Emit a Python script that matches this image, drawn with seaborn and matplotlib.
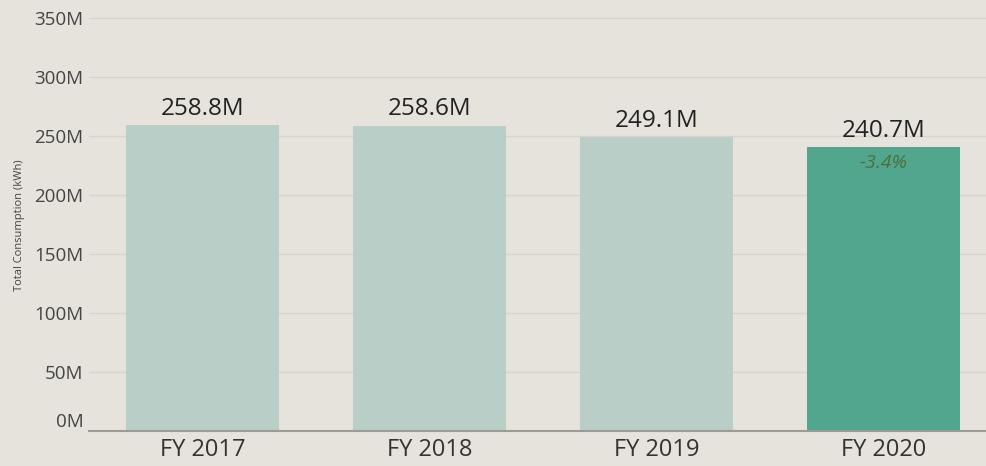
import pandas as pd
import matplotlib.pyplot as plt
import seaborn as sns

years = ['FY 2017', 'FY 2018', 'FY 2019', 'FY 2020']
consumption_m = [258.8, 258.6, 249.1, 240.7]
highlight = [False, False, False, True]
y_ticks = [0, 50, 100, 150, 200, 250, 300, 350]

BG = '#e6e2dc'
LIGHT = '#b9cec7'
DARK = '#52a68e'


def plot_consumption():
    df = pd.DataFrame({'year': years, 'kwh': consumption_m, 'hl': highlight})

    sns.set_style('white')
    plt.rcParams['font.family'] = ['Open Sans', 'DejaVu Sans']

    fig = plt.figure(figsize=(9.86, 4.66), dpi=100, facecolor=BG)
    ax = fig.add_axes([0.0903, 0.0751, 0.921, 0.925])
    ax.set_facecolor(BG)

    sns.barplot(data=df, x='year', y='kwh', hue='hl', palette={False: LIGHT, True: DARK},
                width=0.675, dodge=False, legend=False, ax=ax, saturation=1, linewidth=0)

    ax.set_xlim(-0.5, 3.5)
    ax.set_ylim(0, 365)
    ax.set_yticks(y_ticks)
    ax.set_yticklabels([f'{t}M' for t in y_ticks], fontsize=13.5, color='#444444')
    ax.get_yticklabels()[0].set_va('bottom')
    ax.grid(axis='y', color='#d8d4cd', linewidth=1)
    ax.set_axisbelow(True)
    ax.tick_params(axis='both', length=0)
    ax.tick_params(axis='x', labelsize=17, colors='#333333', pad=5)
    ax.tick_params(axis='y', pad=4)
    ax.set_xlabel('')
    ax.set_ylabel('Total Consumption (kWh)', fontsize=8, color='#444444')
    ax.yaxis.set_label_coords(-0.071, 0.478)

    for s in ['top', 'right', 'left']:
        ax.spines[s].set_visible(False)
    ax.spines['bottom'].set_color('#9e9a94')
    ax.spines['bottom'].set_linewidth(1.5)

    for i, v in enumerate(consumption_m):
        ax.annotate(f'{v:.1f}M', (i, v), xytext=(0, 3), textcoords='offset points',
                    ha='center', va='bottom', fontsize=17.5, color='#222222')

    # change vs previous year on highlighted bar
    pct = (consumption_m[3] - consumption_m[2]) / consumption_m[2] * 100
    ax.annotate(f'{pct:.1f}%', (3, consumption_m[3]), xytext=(0, -5), textcoords='offset points',
                ha='center', va='top', fontsize=14, style='italic', color='#4e6e3c')

    plt.savefig('out.png', facecolor=BG)
    plt.close()


if __name__ == "__main__":
    plot_consumption()
